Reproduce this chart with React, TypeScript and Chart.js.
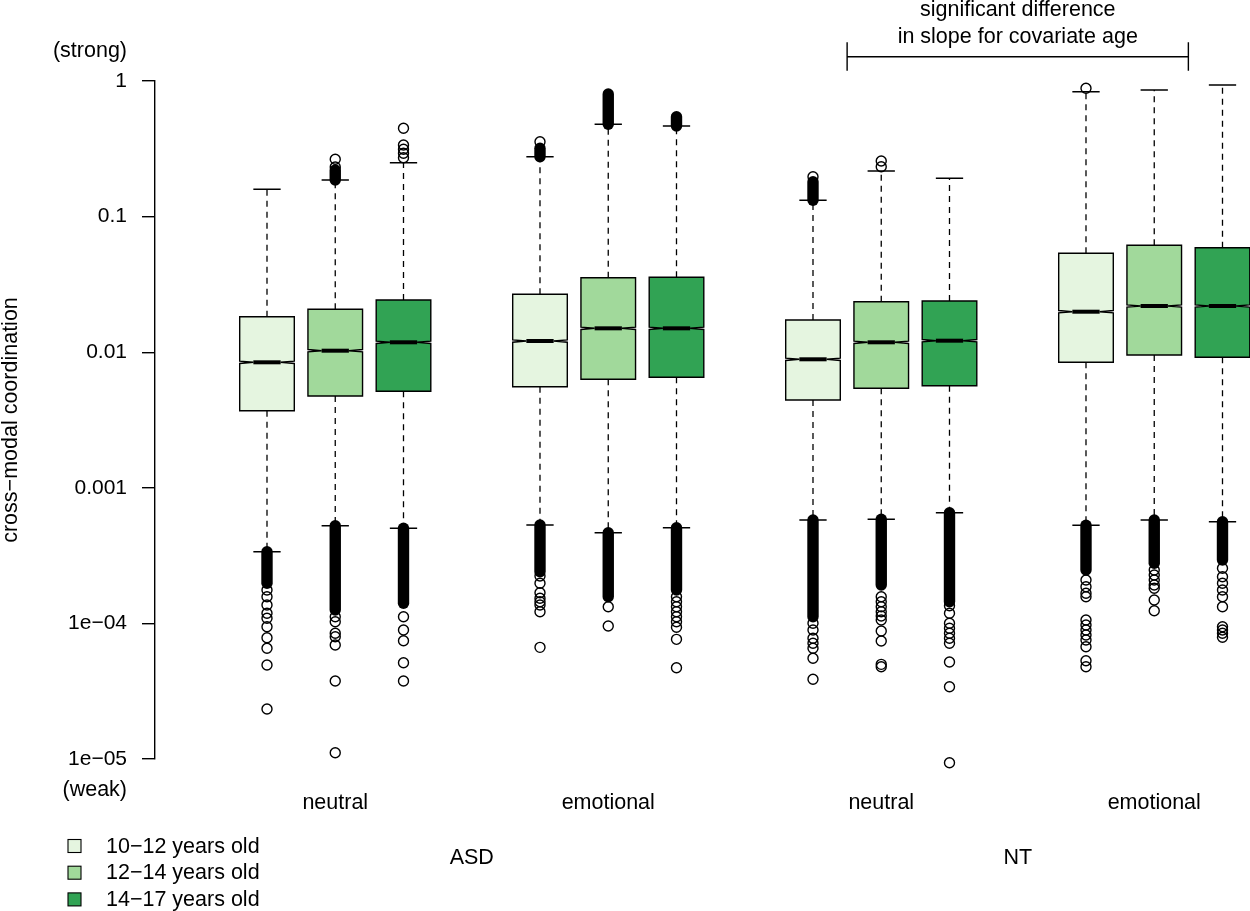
import React, { useEffect, useRef } from "react";
import { Chart, registerables } from "chart.js";

Chart.register(...registerables);

const FONT = "'Liberation Sans', Arial, Helvetica, sans-serif";

// ---------- categories / labels ----------
const conditionLabels = ["neutral", "emotional", "neutral", "emotional"];
const diagnosisLabels = ["ASD", "NT"];
const ageGroups = ["10−12 years old", "12−14 years old", "14−17 years old"];
const ageColors = ["#E5F5E0", "#A1D99B", "#31A354"];
const yTickValues = [1, 0.1, 0.01, 0.001, 0.0001, 0.00001];
const yTickLabels = ["1", "0.1", "0.01", "0.001", "1e−04", "1e−05"];
const yAxisTitle = "cross−modal coordination";
const strongLabel = "(strong)";
const weakLabel = "(weak)";
const annotationLines = ["significant difference", "in slope for covariate age"];
const annotationSpan = [9.5, 14.5]; // in box-slot units

// ---------- box statistics ----------
// order: ASD neutral, ASD emotional, NT neutral, NT emotional; each × (10−12, 12−14, 14−17)
const whiskerLow = [0.0003379, 0.0005254, 0.0005027, 0.0005317, 0.0004666, 0.0005079, 0.0005788, 0.0005858, 0.0006553, 0.000529, 0.0005788, 0.0005623];
const q1 = [0.003704, 0.004753, 0.005147, 0.005566, 0.006311, 0.006529, 0.004441, 0.005418, 0.005662, 0.008423, 0.009537, 0.009171];
const median = [0.008423, 0.01026, 0.01183, 0.01209, 0.015, 0.015, 0.008864, 0.01183, 0.01216, 0.01989, 0.02191, 0.02191];
const q3 = [0.01827, 0.02072, 0.02427, 0.02673, 0.03543, 0.03567, 0.01728, 0.02358, 0.02385, 0.05362, 0.06143, 0.05898];
const whiskerHigh = [0.1589, 0.1862, 0.2497, 0.2765, 0.4794, 0.4657, 0.1319, 0.2169, 0.1916, 0.8337, 0.8583, 0.9344];
const notchLow = [0.008258, 0.01006, 0.0116, 0.01185, 0.01471, 0.01471, 0.00869, 0.0116, 0.01192, 0.0195, 0.02148, 0.02148];
const notchHigh = [0.008591, 0.01047, 0.01207, 0.01233, 0.0153, 0.0153, 0.009041, 0.01207, 0.0124, 0.02029, 0.02235, 0.02235];

// runs of overlapping outliers (drawn as solid runs of circles): [low, high]
const denseLowRuns: number[][] = [
  [0.0001975, 0.0003379],
  [0.0001256, 0.0005254],
  [0.0001406, 0.0005027],
  [0.0002406, 0.0005317],
  [0.0001573, 0.0004666],
  [0.0001763, 0.0005079],
  [0.000112, 0.0005788],
  [0.0001919, 0.0005858],
  [0.0001445, 0.0006553],
  [0.0002476, 0.000529],
  [0.0002774, 0.0005788],
  [0.0002935, 0.0005623],
];
const denseHighRuns: (number[] | null)[] = [
  null,
  [0.1862, 0.2207],
  null,
  [0.2765, 0.3189],
  [0.4794, 0.8021],
  [0.4657, 0.5454],
  [0.1319, 0.1809],
  null,
  null,
  null,
  null,
  null,
];

// individual outliers
const outliers: number[][] = [
  [1.763e-4, 1.573e-4, 1.367e-4, 1.187e-4, 1.091e-4, 9.45e-5, 7.84e-5, 6.55e-5, 4.93e-5, 2.337e-5],
  [0.2321, 0.2647, 1.12e-4, 1.029e-4, 8.45e-5, 7.98e-5, 6.93e-5, 3.76e-5, 1.113e-5],
  [0.4479, 0.3373, 0.3135, 0.2929, 0.2719, 1.12e-4, 8.94e-5, 7.45e-5, 5.13e-5, 3.76e-5],
  [0.3567, 2.237e-4, 1.975e-4, 1.684e-4, 1.531e-4, 1.445e-4, 1.367e-4, 1.22e-4, 6.66e-5],
  [1.328e-4, 9.57e-5],
  [1.573e-4, 1.445e-4, 1.328e-4, 1.22e-4, 1.12e-4, 1.029e-4, 9.36e-5, 7.63e-5, 4.71e-5],
  [0.1969, 1.002e-4, 8.94e-5, 7.77e-5, 7.13e-5, 6.55e-5, 5.53e-5, 3.87e-5],
  [0.2333, 0.257, 1.573e-4, 1.445e-4, 1.328e-4, 1.22e-4, 1.134e-4, 1.059e-4, 8.79e-5, 7.42e-5, 4.99e-5, 4.79e-5],
  [1.351e-4, 1.187e-4, 1.002e-4, 9.2e-5, 8.45e-5, 7.77e-5, 7.13e-5, 5.19e-5, 3.41e-5, 9.39e-6],
  [0.8835, 2.089e-4, 1.865e-4, 1.667e-4, 1.573e-4, 1.059e-4, 9.73e-5, 8.94e-5, 8.21e-5, 7.54e-5, 6.73e-5, 5.31e-5, 4.79e-5],
  [2.476e-4, 2.275e-4, 2.089e-4, 1.919e-4, 1.815e-4, 1.488e-4, 1.241e-4],
  [2.548e-4, 2.21e-4, 1.975e-4, 1.763e-4, 1.573e-4, 1.328e-4, 9.45e-5, 8.94e-5, 8.45e-5, 7.9e-5],
];

// ---------- layout / style constants ----------
const BOX_WIDTH = 0.8;
const POINT_R = 5;
const POINT_LW = 1.4;

const slotOf = (i: number) => Math.floor(i / 3) * 4 + (i % 3) + 1;

const boxPlugin = {
  id: "rBoxplots",
  afterDatasetsDraw(chart: any) {
    const { ctx } = chart;
    const xs = chart.scales.x;
    const ys = chart.scales.y;
    const py = (v: number) => ys.getPixelForValue(v);
    ctx.save();
    ctx.strokeStyle = "#000";
    for (let i = 0; i < median.length; i++) {
      const slot = slotOf(i);
      const xc = xs.getPixelForValue(slot);
      const hw = xs.getPixelForValue(slot + BOX_WIDTH / 2) - xc;
      // whiskers
      ctx.lineWidth = 1.3;
      ctx.setLineDash([6, 5]);
      ctx.beginPath();
      ctx.moveTo(xc, py(q3[i]));
      ctx.lineTo(xc, py(whiskerHigh[i]));
      ctx.moveTo(xc, py(q1[i]));
      ctx.lineTo(xc, py(whiskerLow[i]));
      ctx.stroke();
      ctx.setLineDash([]);
      // staples
      ctx.lineWidth = 1.5;
      ctx.beginPath();
      ctx.moveTo(xc - hw / 2, py(whiskerHigh[i]));
      ctx.lineTo(xc + hw / 2, py(whiskerHigh[i]));
      ctx.moveTo(xc - hw / 2, py(whiskerLow[i]));
      ctx.lineTo(xc + hw / 2, py(whiskerLow[i]));
      ctx.stroke();
      // notched box
      const yq1 = py(q1[i]);
      const yq3 = py(q3[i]);
      const ym = py(median[i]);
      const ynl = py(notchLow[i]);
      const ynh = py(notchHigh[i]);
      ctx.beginPath();
      ctx.moveTo(xc - hw, yq1);
      ctx.lineTo(xc - hw, ynl);
      ctx.lineTo(xc - hw / 2, ym);
      ctx.lineTo(xc - hw, ynh);
      ctx.lineTo(xc - hw, yq3);
      ctx.lineTo(xc + hw, yq3);
      ctx.lineTo(xc + hw, ynh);
      ctx.lineTo(xc + hw / 2, ym);
      ctx.lineTo(xc + hw, ynl);
      ctx.lineTo(xc + hw, yq1);
      ctx.closePath();
      ctx.fillStyle = ageColors[i % 3];
      ctx.fill();
      ctx.lineWidth = 1.4;
      ctx.lineJoin = "miter";
      ctx.stroke();
      // median
      ctx.lineWidth = 4;
      ctx.lineCap = "butt";
      ctx.beginPath();
      ctx.moveTo(xc - hw / 2, ym);
      ctx.lineTo(xc + hw / 2, ym);
      ctx.stroke();
      // dense outlier runs
      const runs = [denseLowRuns[i], denseHighRuns[i]];
      for (const r of runs) {
        if (!r) continue;
        ctx.lineWidth = 2 * POINT_R + POINT_LW;
        ctx.lineCap = "round";
        ctx.beginPath();
        ctx.moveTo(xc, py(r[0]));
        ctx.lineTo(xc, py(r[1]));
        ctx.stroke();
      }
      ctx.lineCap = "butt";
      // single outliers
      ctx.lineWidth = POINT_LW;
      for (const v of outliers[i]) {
        ctx.beginPath();
        ctx.arc(xc, py(v), POINT_R, 0, Math.PI * 2);
        ctx.stroke();
      }
    }
    ctx.restore();
  },
  afterDraw(chart: any) {
    const { ctx } = chart;
    const xs = chart.scales.x;
    ctx.save();
    ctx.fillStyle = "#000";
    ctx.strokeStyle = "#000";
    ctx.font = `21.5px ${FONT}`;
    ctx.textBaseline = "alphabetic";
    // strong / weak
    ctx.textAlign = "right";
    ctx.fillText(strongLabel, 127, 57);
    ctx.fillText(weakLabel, 127, 796);
    // condition labels
    ctx.textAlign = "center";
    conditionLabels.forEach((lab, g) => {
      ctx.fillText(lab, xs.getPixelForValue(g * 4 + 2), 808.5);
    });
    diagnosisLabels.forEach((lab, d) => {
      ctx.fillText(lab, xs.getPixelForValue(d * 8 + 4), 864);
    });
    // annotation
    const ax0 = xs.getPixelForValue(annotationSpan[0]);
    const ax1 = xs.getPixelForValue(annotationSpan[1]);
    const axc = (ax0 + ax1) / 2;
    ctx.fillText(annotationLines[0], axc, 16);
    ctx.fillText(annotationLines[1], axc, 42.5);
    ctx.lineWidth = 1.4;
    ctx.beginPath();
    ctx.moveTo(ax0, 56.7);
    ctx.lineTo(ax1, 56.7);
    ctx.moveTo(ax0, 42.3);
    ctx.lineTo(ax0, 70.7);
    ctx.moveTo(ax1, 42.3);
    ctx.lineTo(ax1, 70.7);
    ctx.stroke();
    // legend
    ctx.textAlign = "left";
    ageGroups.forEach((lab, k) => {
      const cy = 846 + k * 26.7;
      ctx.fillStyle = ageColors[k];
      ctx.fillRect(68, cy - 6.5, 13, 13);
      ctx.lineWidth = 1.1;
      ctx.strokeRect(68, cy - 6.5, 13, 13);
      ctx.fillStyle = "#000";
      ctx.fillText(lab, 106, cy + 6.5);
    });
    ctx.restore();
  },
};

export default function App() {
  const canvasRef = useRef<HTMLCanvasElement | null>(null);

  useEffect(() => {
    document.body.style.margin = "0";
    const canvas = canvasRef.current;
    if (!canvas) return;
    const datasets = ageGroups.map((lab, a) => ({
      label: lab,
      data: conditionLabels.map((_, g) => ({ x: g * 4 + a + 1, y: median[g * 3 + a] })),
      pointRadius: 0,
      backgroundColor: ageColors[a],
      borderColor: "#000",
    }));
    const chart = new Chart(canvas, {
      type: "scatter",
      data: { datasets },
      options: {
        responsive: false,
        maintainAspectRatio: false,
        animation: false,
        devicePixelRatio: 1,
        layout: { padding: { top: 81, bottom: 152, left: 0, right: 0 } },
        plugins: { legend: { display: false }, tooltip: { enabled: false } },
        scales: {
          x: { type: "linear", min: -0.641, max: 15.403, display: false },
          y: {
            type: "logarithmic",
            position: "left",
            min: 1e-5,
            max: 1,
            afterBuildTicks: (scale: any) => {
              scale.ticks = yTickValues.map((v) => ({ value: v }));
            },
            afterFit: (scale: any) => {
              scale.width = 155;
            },
            border: { display: true, color: "#000", width: 1.4 },
            grid: {
              display: true,
              drawOnChartArea: false,
              drawTicks: true,
              tickLength: 13,
              color: "#000",
              lineWidth: 1.4,
            },
            ticks: {
              autoSkip: false,
              padding: 15,
              color: "#000",
              font: { family: FONT, size: 21 },
              callback: (_v: any, idx: number) => yTickLabels[idx],
            },
            title: {
              display: true,
              text: yAxisTitle,
              color: "#000",
              font: { family: FONT, size: 21.5, lineHeight: 1 },
              padding: 0,
            },
          },
        },
      } as any,
      plugins: [boxPlugin],
    });
    return () => chart.destroy();
  }, []);

  return (
    <div style={{ width: 1250, height: 911, background: "#fff" }}>
      <canvas ref={canvasRef} width={1250} height={911} style={{ display: "block" }} />
    </div>
  );
}
